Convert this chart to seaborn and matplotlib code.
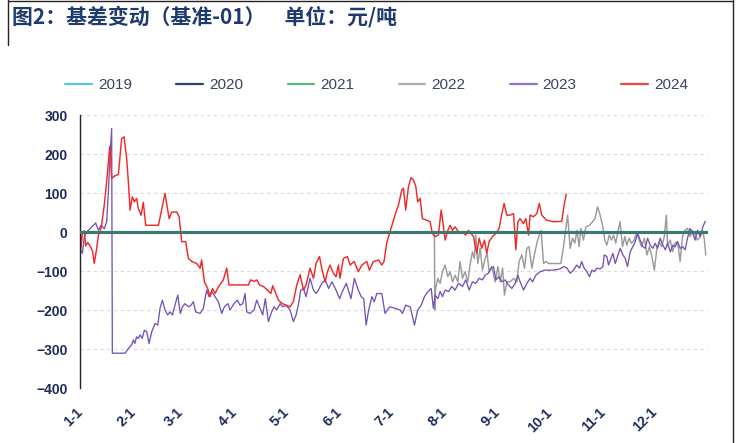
import numpy as np
import pandas as pd
import matplotlib
matplotlib.use("Agg")
import matplotlib.pyplot as plt
import seaborn as sns
from matplotlib.lines import Line2D

# ---------------- data (day of year, basis value) ----------------
years = ["2019", "2020", "2021", "2022", "2023", "2024"]

day_2019 = [0, 365]
val_2019 = [0, 0]
day_2020 = [0, 365]
val_2020 = [0, 0]
day_2021 = [0, 365]
val_2021 = [0, 0]

day_2022 = [206.0, 206.2, 206.7, 208.0, 209.3, 210.7, 212.2, 213.8, 215.1, 216.5, 218.0, 219.6,
            220.9, 222.3, 223.8, 225.4, 226.7, 228.1, 229.2, 230.0, 231.2, 232.6, 233.9, 235.5,
            236.6, 237.8, 239.3, 241.3, 242.9, 244.2, 245.6, 246.7, 248.1, 250.0, 252.0, 253.9,
            255.2, 256.8, 258.3, 259.7, 261.0, 262.6, 264.1, 265.5, 266.9, 268.0, 269.4, 270.9,
            272.3, 276.2, 279.5, 281.0, 282.6, 283.4, 284.9, 286.3, 287.6, 288.8, 290.1, 291.1,
            292.6, 294.0, 296.0, 297.9, 299.3, 300.8, 302.3, 303.7, 305.0, 306.2, 307.6, 308.9,
            310.1, 311.4, 312.8, 313.9, 315.3, 316.7, 317.8, 319.2, 320.5, 322.1, 323.6, 325.0,
            326.4, 328.0, 329.5, 330.9, 332.2, 333.8, 335.3, 336.7, 338.1, 339.6, 340.8, 341.5,
            343.1, 344.4, 345.8, 347.3, 348.8, 350.2, 351.5, 353.1, 354.6, 356.0, 357.4, 358.9,
            360.4, 361.8, 362.8, 363.7]
val_2022 = [-3, -199, -144, -118, -131, -101, -84, -114, -101, -127, -110, -127,
            -75, -118, -101, -127, -84, -50, -67, -7, -80, -41, -97, -67,
            -54, -101, -88, -127, -88, -127, -92, -161, -127, -127, -118, -127,
            -75, -58, -92, -41, -37, -92, -58, -28, -7, 5, -80, -75,
            -80, -80, -80, -37, 18, 44, -41, -15, -28, 5, -37, 10,
            -20, 14, 18, 27, 35, 65, 44, 18, -20, -33, -7, -20,
            -7, -28, 5, 27, -37, -11, -33, -15, -28, -20, 1, -20,
            -37, -15, -58, -37, -58, -97, -41, -24, -37, -11, 44, -33,
            -20, -50, -28, -24, -75, -11, 5, 10, -11, 5, -7, -20,
            -11, 5, -15, -58]

day_2023 = [0.0, 1.4, 2.5, 3.9, 5.8, 7.8, 9.1, 10.7, 12.2, 14.1, 15.5, 16.5, 17.4, 18.4, 18.8,
            26.2, 28.1, 30.0, 31.0, 31.9, 32.9, 33.9, 34.9, 36.2, 37.4, 38.8, 40.1, 41.7, 43.6,
            45.2, 46.5, 47.9, 49.4, 51.0, 52.3, 53.7, 55.2, 56.8, 58.3, 59.5, 61.0, 63.0, 64.5,
            65.9, 67.2, 69.8, 71.7, 73.6, 75.0, 76.5, 78.5, 80.4, 82.4, 83.9, 85.9, 87.2, 89.5,
            91.5, 93.0, 94.6, 95.9, 96.9, 98.8, 101.2, 102.7, 104.3, 106.2, 107.7, 109.5, 111.4,
            112.8, 114.3, 116.3, 117.8, 119.8, 122.1, 124.0, 125.6, 126.9, 128.3, 129.9, 131.4,
            133.7, 135.7, 137.2, 138.6, 140.5, 142.5, 144.5, 146.4, 148.4, 150.9, 152.9, 154.8,
            156.2, 157.5, 159.5, 161.4, 163.4, 164.9, 166.3, 167.6, 169.6, 171.0, 172.5, 175.4,
            177.3, 179.3, 180.2, 183.1, 186.0, 187.4, 189.3, 191.9, 194.4, 196.3, 198.3, 200.2,
            202.2, 204.1, 205.4, 206.4, 208.0, 209.3, 210.7, 212.2, 214.2, 216.1, 218.0, 220.0,
            222.3, 224.2, 226.2, 228.1, 230.0, 232.0, 233.9, 235.5, 237.4, 239.0, 240.3, 241.7,
            243.3, 245.2, 247.1, 249.0, 251.0, 252.9, 254.5, 255.8, 257.8, 259.7, 261.6, 263.0,
            264.9, 267.4, 270.3, 275.2, 279.0, 281.0, 282.9, 284.9, 286.8, 288.7, 290.3, 291.6,
            293.0, 294.6, 296.1, 297.5, 298.8, 300.4, 302.3, 303.9, 304.7, 306.2, 307.2, 308.6,
            309.7, 311.1, 312.4, 314.0, 315.5, 316.9, 318.2, 319.8, 321.3, 322.7, 324.1, 325.6,
            327.2, 328.5, 329.9, 331.4, 333.0, 334.3, 335.7, 337.2, 338.8, 340.2, 341.5, 343.1,
            344.6, 346.0, 347.3, 348.8, 350.4, 351.7, 353.1, 354.6, 356.2, 357.5, 358.9, 360.5,
            362.0, 363.4]
val_2023 = [-41, -54, -11, 1, 9, 18, 24, 5, 18, 9, 27, 104, 190, 266, -310,
            -310, -298, -289, -276, -285, -268, -272, -263, -272, -251, -255, -285, -255, -234,
            -238, -195, -174, -199, -212, -204, -212, -187, -161, -208, -191, -183, -191, -187,
            -178, -204, -208, -195, -148, -165, -152, -165, -178, -208, -191, -183, -199, -183,
            -174, -187, -183, -157, -204, -208, -199, -174, -191, -212, -170, -229, -204,
            -191, -199, -183, -191, -187, -199, -229, -212, -187, -148, -144, -165,
            -118, -148, -157, -148, -131, -122, -144, -127, -144, -170, -148, -131,
            -152, -170, -118, -144, -165, -170, -238, -204, -165, -178, -157, -157,
            -208, -195, -191, -195, -199, -208, -187, -191, -238, -199, -187, -165,
            -152, -144, -195, -161, -170, -152, -165, -148, -152, -139, -148, -131,
            -139, -122, -148, -127, -131, -118, -122, -110, -105, -92, -88, -122,
            -114, -127, -122, -135, -144, -131, -110, -127, -148, -131, -118, -127,
            -110, -101, -97, -97, -94, -88, -91, -105, -97, -84, -92, -75,
            -92, -101, -114, -97, -101, -92, -94, -88, -58, -62, -84, -67,
            -54, -80, -62, -41, -58, -67, -88, -50, -37, -24, -3, -20,
            -37, -41, -15, -33, -41, -28, -41, -15, -33, -45, -28, -50,
            -33, -37, -24, -41, -37, -45, -15, 10, -3, -20, 5, -11,
            14, 28]

day_2024 = [0.0, 0.6, 1.4, 2.5, 3.3, 4.5, 5.8, 7.2, 8.3, 9.7, 10.7, 11.6, 12.6, 14.1, 15.5,
            16.5, 17.3, 17.8, 18.4, 20.3, 22.3, 24.2, 25.6, 27.1, 28.1, 29.1, 30.4, 31.6, 32.9,
            33.9, 35.5, 36.8, 38.2, 45.6, 49.4, 51.8, 53.3, 56.2, 57.6, 59.1, 61.4, 63.0, 65.0,
            67.8, 69.8, 70.7, 72.3, 74.2, 75.6, 77.0, 78.5, 80.4, 83.3, 85.3, 86.6, 91.1, 97.9,
            99.2, 101.2, 102.7, 104.3, 106.6, 108.9, 110.9, 112.0, 113.4, 115.3, 117.3, 119.2,
            122.1, 124.0, 126.0, 127.9, 129.9, 131.4, 133.7, 135.7, 137.2, 139.2, 140.5, 142.5,
            143.8, 145.3, 147.3, 148.8, 150.2, 151.1, 153.1, 155.4, 157.0, 159.3, 161.8, 163.8,
            166.7, 168.2, 170.5, 173.5, 175.4, 176.7, 178.3, 180.2, 183.1, 185.1, 187.0, 188.0,
            189.3, 190.9, 192.4, 193.8, 195.2, 196.3, 197.7, 199.0, 201.5, 203.5, 204.8, 206.4,
            208.3, 209.9, 210.9, 212.2, 213.8, 215.1, 216.5, 218.0, 220.0, 222.3, 224.2, 225.8,
            227.3, 228.7, 230.6, 232.0, 233.5, 235.1, 236.4, 237.8, 239.7, 241.7, 243.6, 245.2,
            246.5, 248.1, 250.0, 252.0, 253.3, 254.5, 255.8, 257.8, 259.1, 260.7, 261.6, 263.6,
            265.5, 266.9, 268.4, 270.3, 271.3, 275.2, 280.0, 281.4, 282.6]
val_2024 = [27, -41, 0, 4, -35, -26, -35, -47, -80, -41, -7, 0, 20, 70, 130,
            180, 220, 190, 138, 145, 148, 240, 245, 190, 130, 57, 91, 78, 87,
            61, 44, 77, 18, 18, 100, 35, 52, 52, 40, -24, -24, -67, -75,
            -80, -92, -71, -127, -144, -165, -144, -157, -140, -122, -92, -135, -135, -135,
            -122, -126, -122, -135, -139, -148, -157, -137, -152, -174, -182, -186,
            -191, -178, -135, -109, -148, -135, -92, -118, -80, -62, -92, -127,
            -101, -84, -105, -114, -84, -118, -67, -62, -84, -75, -101, -84,
            -75, -97, -75, -71, -84, -75, -27, 2, 44, 70, 108, 113,
            57, 117, 140, 134, 117, 78, 87, 35, 31, 27, -3, -11,
            -7, 57, 27, -20, 5, 18, 5, 14, 1, 1, -7, 5,
            -3, -11, -54, -15, -41, -20, -54, -24, -11, -3, 10, 48,
            74, 44, 44, 48, -45, 27, 35, 22, 35, -7, 44, 40,
            48, 74, 44, 35, 31, 27, 28, 70, 98]

month_ticks = [0, 31, 59, 90, 120, 151, 181, 212, 243, 273, 304, 334]
month_labels = ["1-1", "2-1", "3-1", "4-1", "5-1", "6-1", "7-1", "8-1", "9-1", "10-1", "11-1", "12-1"]
y_ticks = [-400, -300, -200, -100, 0, 100, 200, 300]

series_days = {"2019": day_2019, "2020": day_2020, "2021": day_2021,
               "2022": day_2022, "2023": day_2023, "2024": day_2024}
series_vals = {"2019": val_2019, "2020": val_2020, "2021": val_2021,
               "2022": val_2022, "2023": val_2023, "2024": val_2024}

frames = [pd.DataFrame({"day": series_days[y], "basis": series_vals[y], "year": y}) for y in years]
df = pd.concat(frames, ignore_index=True)

# ---------------- style ----------------
sns.set_style("white")
plt.rcParams["font.family"] = ["Liberation Sans", "DejaVu Sans"]
plt.rcParams["axes.unicode_minus"] = True

line_colors = {"2019": "#4fc0de", "2020": "#2f3d6e", "2021": "#4cb46e",
               "2022": "#9b9b9b", "2023": "#7552b6", "2024": "#ee2b2b"}
legend_colors = {"2019": "#5cc6e2", "2020": "#33406e", "2021": "#55bb77",
                 "2022": "#ababab", "2023": "#9373c6", "2024": "#ea4a40"}

fig = plt.figure(figsize=(7.38, 4.43), dpi=100)
ax = fig.add_axes([80 / 738, 1 - 388.3 / 443, 628 / 738, (388.3 - 115.3) / 443])

# data lines
styles = {"2022": 1.05, "2023": 0.95, "2024": 1.05}
for y in ["2022", "2023", "2024"]:
    sub = df[df["year"] == y]
    sns.lineplot(data=sub, x="day", y="basis", ax=ax, color=line_colors[y],
                 lw=styles[y], estimator=None, sort=False, zorder=2, legend=False)

# zero-value series (2019-2021) overlap at 0
for y, a in [("2019", 1.0), ("2020", 1.0), ("2021", 0.5)]:
    sub = df[df["year"] == y]
    sns.lineplot(data=sub, x="day", y="basis", ax=ax, color=line_colors[y],
                 lw=2.2, alpha=a, estimator=None, sort=False, zorder=4, legend=False)

ax.set_xlim(0, 365)
ax.set_ylim(-400, 300)
ax.set_yticks(y_ticks)
ax.set_yticklabels([str(v).replace("-", "\u2212") for v in y_ticks])
ax.set_xticks(month_ticks)
ax.set_xticklabels(month_labels)
ax.set_xlabel("")
ax.set_ylabel("")

# grid
ax.yaxis.grid(True, color="#dadada", lw=0.8, ls=(0, (3, 3)))
ax.xaxis.grid(False)
ax.set_axisbelow(True)

# spines
for s in ["top", "right"]:
    ax.spines[s].set_visible(False)
ax.spines["left"].set_color("#222222")
ax.spines["left"].set_linewidth(1.0)
ax.spines["bottom"].set_position(("data", 0))
ax.spines["bottom"].set_visible(False)

tick_color = "#1c2b5a"
ax.tick_params(axis="y", direction="out", length=4, width=1, color="#222222",
               labelsize=10, labelcolor=tick_color, pad=5)
for lab in ax.get_yticklabels():
    lab.set_fontweight("bold")
ax.tick_params(axis="x", direction="out", length=4, width=0.8, color="#7f8f8a",
               labelsize=10, labelcolor=tick_color, pad=124)
for lab in ax.get_xticklabels():
    lab.set_rotation(45)
    lab.set_ha("right")
    lab.set_va("center")
    lab.set_rotation_mode("anchor")
    lab.set_fontweight("bold")

# legend
handles = [Line2D([0], [0], color=legend_colors[y], lw=1.6) for y in years]
leg = fig.legend(handles, years, loc="center", bbox_to_anchor=(376.5 / 738, 1 - 85 / 443),
                 ncol=6, frameon=False, fontsize=11, handlelength=1.75, handletextpad=0.4,
                 columnspacing=2.9)
for t in leg.get_texts():
    t.set_color("#3a4460")

# title
fig.text(12 / 738, 1 - 17 / 443, "图2：基差变动（基准-01）    单位：元/吨",
         family=["Noto Sans CJK SC", "DejaVu Sans"], fontsize=15, fontweight="bold",
         color="#1f3a6e", va="center", ha="left")

# frame lines of the picture
fig.add_artist(Line2D([8 / 738, 8 / 738], [1.0, 1 - 45 / 443], transform=fig.transFigure,
                      color="#222222", lw=1.0))
fig.add_artist(Line2D([733 / 738, 733 / 738], [1.0, 0.0], transform=fig.transFigure,
                      color="#222222", lw=1.0))
fig.add_artist(Line2D([8 / 738, 733 / 738], [1 - 0.5 / 443, 1 - 0.5 / 443], transform=fig.transFigure,
                      color="#222222", lw=1.0))

fig.savefig("out.png", dpi=100, facecolor="white")
